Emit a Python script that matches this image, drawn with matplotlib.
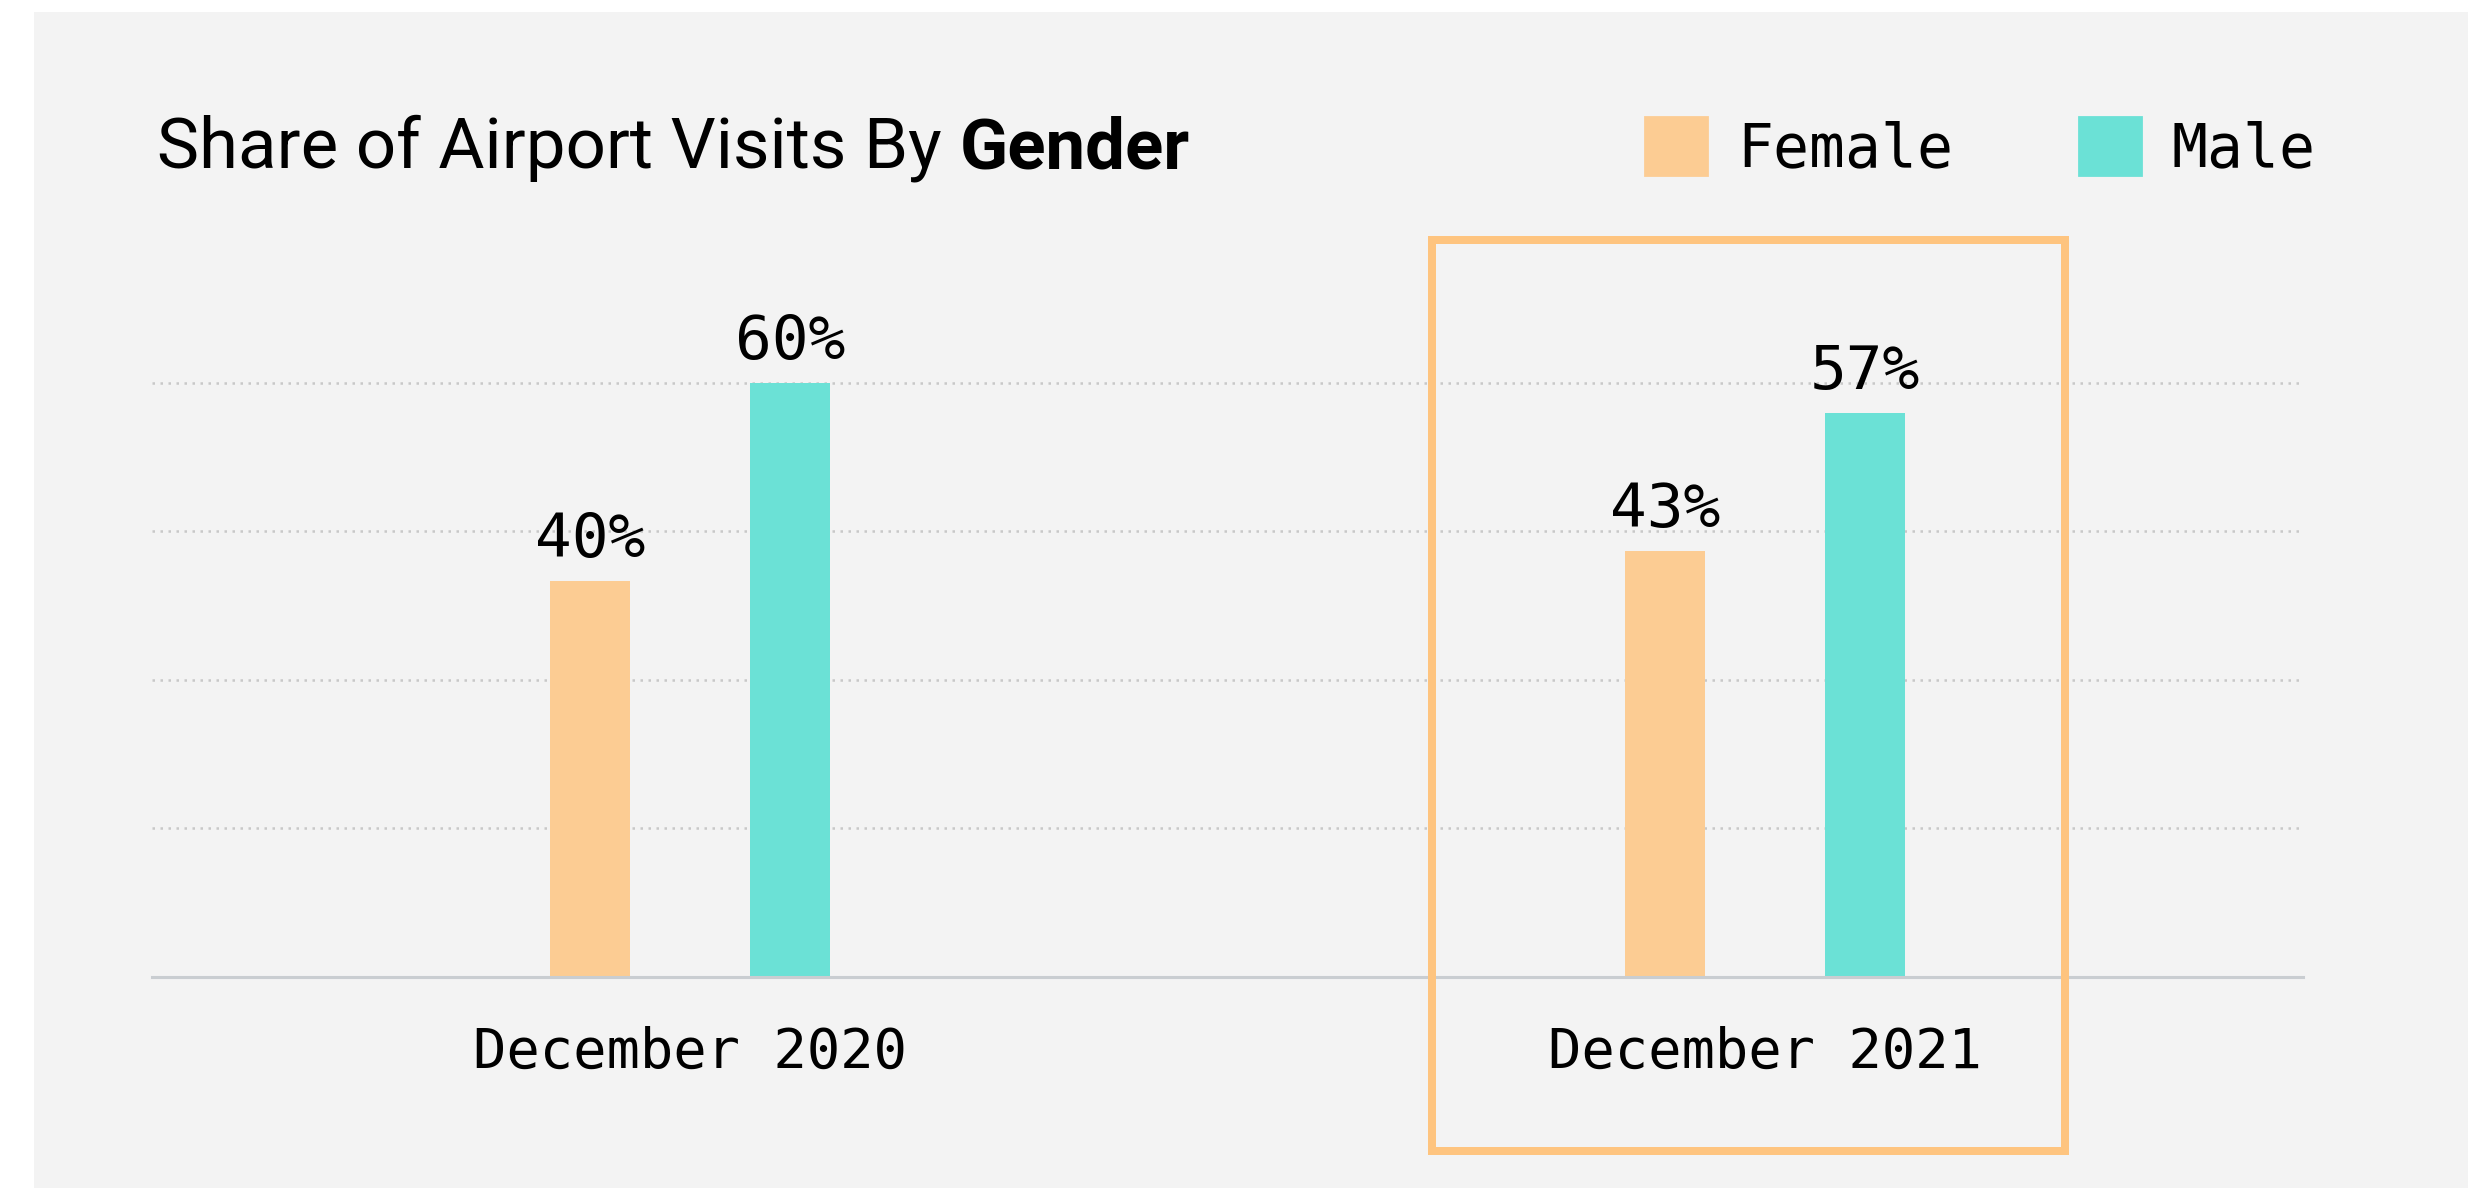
import matplotlib
matplotlib.use("Agg")
import matplotlib.pyplot as plt
import matplotlib.patches as patches
import numpy as np

# Données
periodes = ["December 2020", "December 2021"]
femmes = [40, 43]
hommes = [60, 57]
series = ["Female", "Male"]

couleur_femmes = "#fccc93"
couleur_hommes = "#6be1d6"
couleur_cadre = "#fec47f"
fond = "#f3f3f3"
police_mono = "DejaVu Sans Mono"
police_titre = "Roboto"

fig = plt.figure(figsize=(12.34, 5.94), dpi=200, facecolor="white")

# Panneau gris derrière le graphique
fig.patches.append(
    patches.Rectangle(
        (34 / 2468, 0), 1, 1 - 12 / 1188,
        transform=fig.transFigure, facecolor=fond, edgecolor="none", zorder=-5,
    )
)

ax = fig.add_axes([0.0616, 0.1776, 0.8715, 0.5834])
ax.patch.set_alpha(0)

x = np.arange(len(periodes))
decalage = 0.093
largeur = 0.0745

barres_f = ax.bar(x - decalage, femmes, largeur, color=couleur_femmes, zorder=2)
barres_h = ax.bar(x + decalage, hommes, largeur, color=couleur_hommes, zorder=2)

for barres, valeurs in ((barres_f, femmes), (barres_h, hommes)):
    for b, v in zip(barres, valeurs):
        ax.annotate(
            f"{v}%",
            xy=(b.get_x() + b.get_width() / 2, v),
            xytext=(0, 8.6),
            textcoords="offset points",
            ha="center",
            va="baseline",
            fontsize=22,
            family=police_mono,
            color="#000000",
        )

ax.set_xlim(-0.5, 1.5)
ax.set_ylim(0, 70)

# Grille horizontale pointillée
ax.set_yticks([15, 30, 45, 60])
ax.tick_params(axis="y", length=0, labelleft=False)
ax.grid(axis="y", color="#c8c8c8", linestyle=(0, (1, 2.2)), linewidth=0.9, zorder=1)

ax.set_xticks(x)
ax.set_xticklabels(periodes, family=police_mono, fontsize=20, color="#000000")
ax.tick_params(axis="x", length=0, pad=17.5)

for cote in ("top", "right", "left"):
    ax.spines[cote].set_visible(False)
ax.spines["bottom"].set_color("#c9cdd1")
ax.spines["bottom"].set_linewidth(1.1)

# Cadre autour de décembre 2021
ax.add_patch(
    patches.Rectangle(
        (0.69, -0.251), 0.589, 1.3145,
        transform=ax.get_xaxis_transform(), fill=False,
        edgecolor=couleur_cadre, linewidth=2.88, clip_on=False, zorder=3,
    )
)

# Titre avec le dernier mot en gras
titre = fig.text(
    0.0636, 1 - 168 / 1188, "Share of Airport Visits By",
    fontsize=25.5, family=police_titre, va="baseline", ha="left", color="#000000",
)
fig.texts.append(
    plt.Annotation(
        "Gender",
        xy=(1, 0), xycoords=titre,
        xytext=(6.5, 0), textcoords="offset points",
        fontsize=25.5, family=police_titre, fontweight="bold",
        va="bottom", ha="left", color="#000000",
    )
)
fig.texts[-1].set_figure(fig)

# Légende
poignees = [
    patches.Patch(color=couleur_femmes, label=series[0]),
    patches.Patch(color=couleur_hommes, label=series[1]),
]
fig.legend(
    handles=poignees,
    loc="center left",
    bbox_to_anchor=(1645 / 2468, 1 - 148 / 1188),
    ncol=2,
    frameon=False,
    prop={"family": police_mono, "size": 21.5},
    handlelength=1.03,
    handleheight=1.13,
    handletextpad=0.52,
    columnspacing=2.1,
    borderpad=0,
    borderaxespad=0,
)

fig.savefig("out.png", dpi=200, facecolor="white")
